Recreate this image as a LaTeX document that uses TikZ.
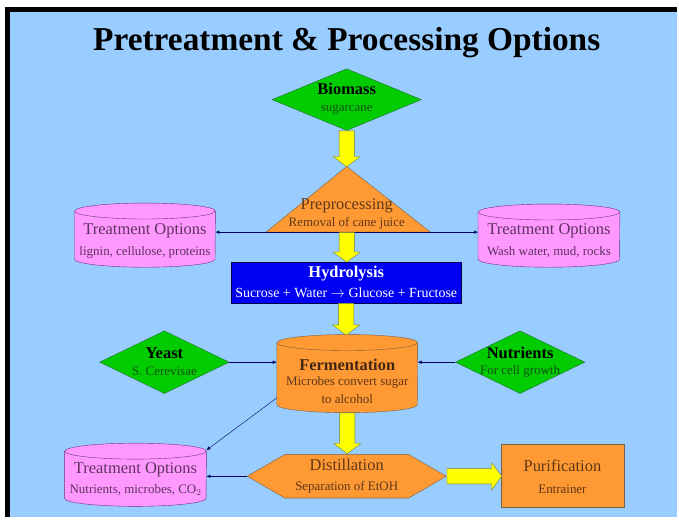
\documentclass[tikz,border=0pt]{standalone}
\usepackage{fontspec}
\setmainfont{Liberation Serif}
\usetikzlibrary{shapes.geometric, shapes.symbols, shapes.arrows, arrows.meta}

\definecolor{skyback}{RGB}{153,204,255}
\definecolor{leafgreen}{RGB}{0,204,0}
\definecolor{leafedge}{RGB}{40,110,50}
\definecolor{caneorange}{RGB}{255,153,51}
\definecolor{caneedge}{RGB}{120,95,70}
\definecolor{candypink}{RGB}{255,153,255}
\definecolor{candyedge}{RGB}{110,50,120}
\definecolor{deepblue}{RGB}{0,0,245}
\definecolor{arrowyellow}{RGB}{255,255,0}
\definecolor{arrowedge}{RGB}{110,130,60}
\definecolor{browntext}{RGB}{95,55,25}
\definecolor{plumtext}{RGB}{95,50,95}
\definecolor{mosstext}{RGB}{20,80,20}

% drum outline round a named box: #1 node, #2 style, #3 half width
\newcommand{\drum}[3]{%
  \filldraw[#2] ([yshift=-8pt]#1.north west) -- ([yshift=8pt]#1.south west)
    arc[start angle=180, end angle=0, x radius=#3, y radius=8]
    -- ([yshift=-8pt]#1.north east)
    arc[start angle=0, end angle=-180, x radius=#3, y radius=8] -- cycle;
  \draw[#2, fill=none] ([yshift=-8pt]#1.north west)
    arc[start angle=180, end angle=0, x radius=#3, y radius=8];
}

\begin{document}
\begin{tikzpicture}[x=1pt, y=-1pt,
  gem/.style={diamond, draw=leafedge, fill=leafgreen, inner sep=0pt},
  tank/.style={rectangle, inner sep=0pt},
  pinkdrum/.style={draw=candyedge, fill=candypink},
  orangedrum/.style={draw=caneedge, fill=caneorange},
  block/.style={rectangle, draw=caneedge, fill=caneorange, inner sep=0pt},
  link/.style={draw=black!60!blue, -{Latex[length=4pt,width=3.5pt]}},
  bigarrow/.style={single arrow, draw=arrowedge, fill=arrowyellow, inner xsep=0pt, inner ysep=7.5pt,
    minimum width=27pt, single arrow head extend=6pt, single arrow tip angle=106},
  head/.style={font=\fontsize{16.5}{18}\selectfont},
  sub/.style={font=\fontsize{13}{15}\selectfont},
  boldhead/.style={font=\bfseries\fontsize{16.5}{18}\selectfont}]

% --- page and frame ---
\fill[white] (0,0) rectangle (679,519);
\fill[skyback] (8,9.5) rectangle (679,519);
\draw[line width=5pt] (7.5,519) -- (7.5,9.5) -- (679,9.5);

\node[font=\bfseries\fontsize{33.5}{36}\selectfont] (title) at (348,43) {Pretreatment \& Processing Options};

% --- feedstock and preprocessing ---
\node[gem, minimum width=150pt, minimum height=62pt] (bio) at (348,100) {};
\node[boldhead] (bioA) at (348,89) {Biomass};
\node[sub, text=mosstext] (bioB) at (348,110) {sugarcane};

\coordinate (preTop) at (348,167);
\coordinate (preBase) at (348,233);
\fill[caneorange, draw=caneedge] (preTop) -- (267,233) -- (432,233) -- cycle;
\node[head, text=browntext] (preA) at (348,207) {Preprocessing};
\node[sub, text=browntext] (preB) at (348,224) {Removal of cane juice};

\node[bigarrow, rotate=-90, anchor=tail, minimum height=36pt] (a1) at (bio.south) {};

% Treatment options beside the preprocessing step
\node[tank, minimum width=141pt, minimum height=64pt] (tl) at (145.5,236) {};
\drum{tl}{pinkdrum}{70.5}
\node[head, text=plumtext] (tlA) at (145.5,232) {Treatment Options};
\node[sub, text=plumtext] (tlB) at (145.5,253) {lignin, cellulose, proteins};

\node[tank, minimum width=142pt, minimum height=63pt] (tr) at (551,236.5) {};
\drum{tr}{pinkdrum}{71}
\node[head, text=plumtext] (trA) at (551,232) {Treatment Options};
\node[sub, text=plumtext] (trB) at (551,253) {Wash water, mud, rocks};

\draw[link] (preBase) -- (preBase -| tl.east);
\draw[link] (preBase) -- (preBase -| tr.west);

% --- hydrolysis ---
\node[rectangle, draw=black!70!blue, fill=deepblue, minimum width=231pt, minimum height=41pt] (hyd) at (347.5,283.5) {};
\node[text=white, boldhead] (hydA) at (347.5,275) {Hydrolysis};
\node[text=white, font=\fontsize{14}{16}\selectfont] (hydB) at (347.5,294) {Sucrose + Water $\rightarrow$ Glucose + Fructose};

\node[bigarrow, rotate=-90, anchor=tail, minimum height=30pt] (a2) at (preBase) {};

% --- fermentation with its inputs ---
\node[tank, minimum width=141pt, minimum height=78pt] (ferm) at (348.5,375) {};
\drum{ferm}{orangedrum}{70.5}
\node[text=browntext!70!black, boldhead] (fermA) at (348.5,366) {Fermentation};
\node[text=browntext, sub] (fermB) at (348.5,384) {Microbes convert sugar};
\node[text=browntext, sub] (fermC) at (348.5,401) {to alcohol};

\node[bigarrow, rotate=-90, anchor=tail, minimum height=32pt] (a3) at (hyd.south) {};

\node[gem, minimum width=130pt, minimum height=63pt] (yeast) at (165,363.5) {};
\node[boldhead] (yeastA) at (165,354) {Yeast};
\node[text=mosstext, sub] (yeastB) at (165,373) {S. Cerevisae};

\node[gem, minimum width=130pt, minimum height=63pt] (nut) at (522,363.5) {};
\node[boldhead] (nutA) at (522,354) {Nutrients};
\node[text=mosstext, sub] (nutB) at (522,373) {For cell growth};

\draw[link] (yeast.east) -- (yeast.east -| ferm.west);
\draw[link] (nut.west) -- (nut.west -| ferm.east);

% --- distillation and what follows ---
\node[signal, signal to=west and east, signal pointer angle=60, draw=caneedge, fill=caneorange,
      minimum width=200pt, minimum height=44pt, inner sep=0pt] (dist) at (348,478) {};
\node[head, text=browntext] (distA) at (348,467) {Distillation};
\node[sub, text=browntext] (distB) at (348,489) {Separation of EtOH};

\node[bigarrow, rotate=-90, anchor=tail, minimum height=41pt] (a4) at (ferm.south) {};

\node[tank, minimum width=142pt, minimum height=63pt] (bl) at (136,476.5) {};
\drum{bl}{pinkdrum}{71}
\node[head, text=plumtext] (blA) at (136,472) {Treatment Options};
\node[sub, text=plumtext] (blB) at (136,492) {Nutrients, microbes, CO$_2$};

\draw[link] (ferm.199) -- ([yshift=-7pt]bl.north east);
\draw[link] (dist.west) -- (dist.west -| bl.east);

\node[block, minimum width=123pt, minimum height=63pt] (pur) at (564.5,477.5) {};
\node[head, text=browntext] (purA) at (564.5,467) {Purification};
\node[sub, text=browntext] (purB) at (564.5,491) {Entrainer};

\node[bigarrow, anchor=tail, minimum height=55pt] (a5) at (dist.east) {};

\end{tikzpicture}
\end{document}
